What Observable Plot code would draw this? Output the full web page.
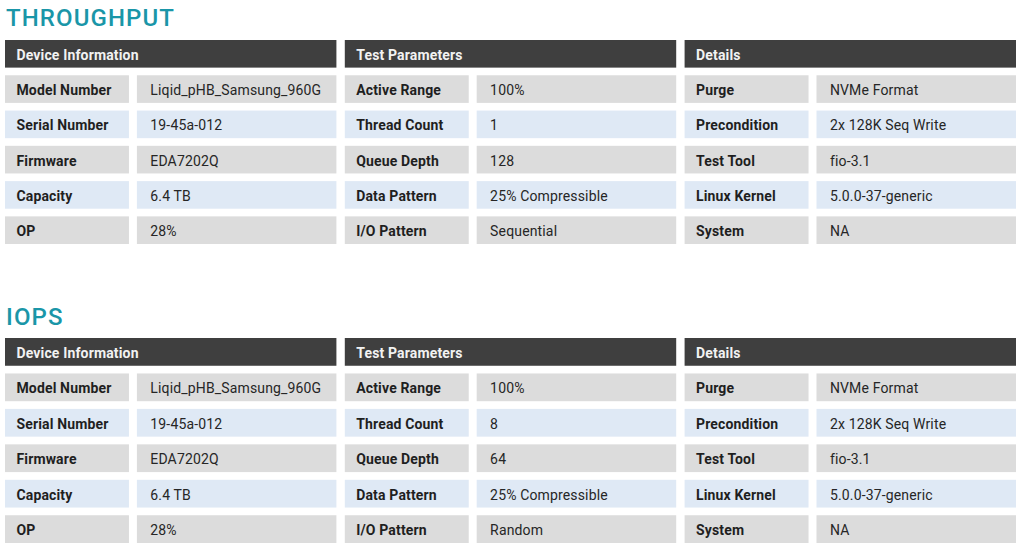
<!DOCTYPE html>
<html><head><meta charset="utf-8">
<script src="https://cdn.jsdelivr.net/npm/d3@7"></script>
<script src="https://cdn.jsdelivr.net/npm/@observablehq/plot@0.6"></script>
<style>
html,body{margin:0;padding:0;background:#fff;}
body{width:1024px;height:549px;overflow:hidden;font-family:Roboto,"Noto Sans",sans-serif;}
.title{height:36px;line-height:36px;font-size:24px;font-weight:500;color:#1a96a8;letter-spacing:1.1px;padding-left:6px;white-space:nowrap;}
svg{display:block;}
</style></head><body>
<div id="root"></div>
<script>
const sections = ["THROUGHPUT", "IOPS"];
const groups = ["Device Information", "Test Parameters", "Details"];
const rowKeys = ["head", "1", "2", "3", "4", "5"];

const deviceLabels = ["Model Number", "Serial Number", "Firmware", "Capacity", "OP"];
const deviceValues = ["Liqid_pHB_Samsung_960G", "19-45a-012", "EDA7202Q", "6.4 TB", "28%"];

const testLabels = ["Active Range", "Thread Count", "Queue Depth", "Data Pattern", "I/O Pattern"];
const throughputTestValues = ["100%", "1", "128", "25% Compressible", "Sequential"];
const iopsTestValues = ["100%", "8", "64", "25% Compressible", "Random"];

const detailLabels = ["Purge", "Precondition", "Test Tool", "Linux Kernel", "System"];
const detailValues = ["NVMe Format", "2x 128K Seq Write", "fio-3.1", "5.0.0-37-generic", "NA"];

const sectionColumns = {
  THROUGHPUT: [[deviceLabels, deviceValues], [testLabels, throughputTestValues], [detailLabels, detailValues]],
  IOPS: [[deviceLabels, deviceValues], [testLabels, iopsTestValues], [detailLabels, detailValues]]
};

// layout fractions within one group (group width = 1)
const LABEL_END = 0.374, VALUE_START = 0.398;
const LABEL_TEXT = 0.033, VALUE_TEXT = 0.437;

function buildCells(section) {
  const cells = [];
  sectionColumns[section].forEach(([labels, values], g) => {
    cells.push({group: groups[g], row: "head", kind: "header", text: groups[g]});
    labels.forEach((lab, i) => {
      cells.push({group: groups[g], row: String(i + 1), kind: "label", text: lab});
      cells.push({group: groups[g], row: String(i + 1), kind: "value", text: values[i]});
    });
  });
  return cells;
}

const x1Of = d => d.kind === "value" ? VALUE_START : 0;
const x2Of = d => d.kind === "label" ? LABEL_END : 1;
const fillOf = d => d.kind === "header" ? "#3f3f3f" : (+d.row % 2 === 0 ? "#dfe9f5" : "#dcdcdc");
const textX = d => d.kind === "value" ? VALUE_TEXT : LABEL_TEXT;

function table(section, height, marginTop, marginBottom) {
  const cells = buildCells(section);
  return Plot.plot({
    width: 1024, height, marginTop, marginBottom, marginLeft: 5, marginRight: 8,
    style: {fontFamily: "Roboto, 'Noto Sans', sans-serif", fontSize: "14px", background: "#fff", overflow: "visible", letterSpacing: "0.15px"},
    facet: {data: cells, x: "group"},
    fx: {domain: groups, axis: null, paddingInner: 0.0247, paddingOuter: 0, round: false, label: null},
    x: {domain: [0, 1], axis: null},
    y: {domain: rowKeys, axis: null, paddingInner: 0.217, paddingOuter: 0, round: false},
    marks: [
      Plot.barX(cells, {x1: x1Of, x2: x2Of, y: "row", fill: fillOf, insetTop: 0, insetBottom: 0}),
      Plot.text(cells, {filter: d => d.kind === "header", x: textX, y: "row", text: "text", dy: 1,
        textAnchor: "start", fill: "#f2f2f2", fontWeight: "bold", fontSize: 14}),
      Plot.text(cells, {filter: d => d.kind === "label", x: textX, y: "row", text: "text", dy: 1,
        textAnchor: "start", fill: "#1f1f1f", fontWeight: "bold", fontSize: 14}),
      Plot.text(cells, {filter: d => d.kind === "value", x: textX, y: "row", text: "text", dy: 1,
        textAnchor: "start", fill: "#262626", fontSize: 14})
    ]
  });
}

const root = document.getElementById("root");
const layout = {THROUGHPUT: [263, 4, 55], IOPS: [214, 3, 6]};
for (const s of sections) {
  const t = document.createElement("div");
  t.className = "title";
  t.textContent = s;
  root.appendChild(t);
  const [h, mt, mb] = layout[s];
  root.appendChild(table(s, h, mt, mb));
}
</script>
</body></html>
